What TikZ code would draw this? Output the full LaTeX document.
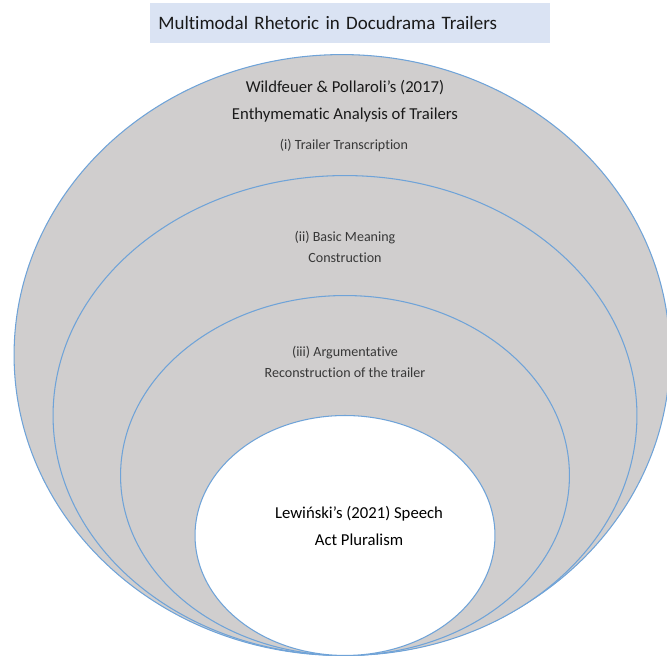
\documentclass[tikz,border=0pt]{standalone}
\usepackage{fontspec}
\setmainfont{Carlito}[Ligatures={NoCommon}]
\usetikzlibrary{shapes.geometric}

\definecolor{layerfill}{HTML}{D0CECE}
\definecolor{layerline}{HTML}{6FA3D8}
\definecolor{titlefill}{HTML}{DAE3F3}
\definecolor{labeltext}{HTML}{1A1A1A}
\definecolor{steptext}{HTML}{383838}

\begin{document}
\begin{tikzpicture}[x={0.02cm},y={-0.02cm}]

\tikzstyle{layer}=[ellipse,draw=layerline,line width={0.6pt},fill=layerfill,anchor={south},inner sep={0pt}]
\tikzstyle{core}=[layer,fill=white]
\tikzstyle{heading}=[text=labeltext,align={center},font={\fontsize{9.5}{15.3}\selectfont}]
\tikzstyle{stage}=[text=steptext,align={center},font={\fontsize{8}{11.9}\selectfont}]

\useasboundingbox (0,0) rectangle (667,658) ;

% title box

\node at (150,3) [fill=titlefill,anchor={north west},minimum width={8.0cm},minimum height={0.8cm},text width={7.68cm},inner xsep={0.16cm},align={left},text=labeltext,font={\fontsize{10.8}{12}\selectfont}] (T) {Multimodal Rhetoric in Docudrama Trailers} ;

% layers: nested ellipses

\coordinate (base) at (345,656) ;

\node at ([xshift={-0.06cm}] base) [layer,minimum width={13.12cm},minimum height={12.02cm}] (L1) {} ;
\node at (base) [layer,minimum width={11.68cm},minimum height={9.6cm}] (L2) {} ;
\node at (base) [layer,minimum width={8.98cm},minimum height={7.2cm}] (L3) {} ;
\node at (base) [core,minimum width={6.0cm},minimum height={4.8cm}] (L4) {} ;

% layers: labels

\node at (345,101) [heading] (H1) {Wildfeuer \& Pollaroli’s (2017)\\Enthymematic Analysis of Trailers} ;
\node at (344,145) [stage] (S1) {(i) Trailer Transcription} ;
\node at (345,247) [stage] (S2) {(ii) Basic Meaning\\Construction} ;
\node at (345,362) [stage] (S3) {(iii) Argumentative\\Reconstruction of the trailer} ;
\node at (359,526) [heading,text=black] (H2) {Lewiński’s (2021) Speech\\Act Pluralism} ;

\end{tikzpicture}
\end{document}
